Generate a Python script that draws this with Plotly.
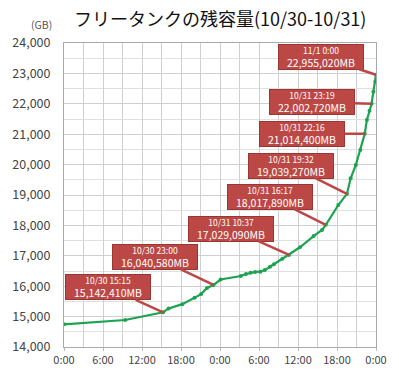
import plotly.graph_objects as go

# hours since 10/30 0:00
hours = [0, 9.4, 15.25, 16.1, 18.2, 20.1, 21.1, 22.0, 23.0, 24.1, 27.2, 28.0, 28.7, 29.4,
         30.2, 30.9, 31.7, 32.3, 33.6, 34.62, 36.3, 38.4, 39.7, 40.28, 42.2, 43.53,
         44.1, 44.9, 45.6, 46.27, 46.6, 47.0, 47.32, 47.6, 47.9, 48.0]
# remaining capacity (GB)
values = [14747, 14888, 15142.41, 15270, 15410, 15620, 15740, 15940, 16040.58, 16220, 16335,
          16400, 16444, 16467, 16477, 16530, 16640, 16720, 16905, 17029.09, 17280, 17650,
          17850, 18017.89, 18670, 19039.27, 19550, 19990, 20480, 21014.4, 21470, 21775,
          22002.72, 22400, 22730, 22955.02]

tick_hours = [0, 6, 12, 18, 24, 30, 36, 42, 48]
tick_labels = ["0:00", "6:00", "12:00", "18:00", "0:00", "6:00", "12:00", "18:00", "0:00"]

callout_hours = [15.25, 23.0, 34.62, 40.28, 43.53, 46.27, 47.32, 48.0]
callout_values = [15142.41, 16040.58, 17029.09, 18017.89, 19039.27, 21014.4, 22002.72, 22955.02]
callout_times = ["10/30 15:15", "10/30 23:00", "10/31 10:37", "10/31 16:17",
                 "10/31 19:32", "10/31 22:16", "10/31 23:19", "11/1 0:00"]
callout_mb = ["15,142,410MB", "16,040,580MB", "17,029,090MB", "18,017,890MB",
              "19,039,270MB", "21,014,400MB", "22,002,720MB", "22,955,020MB"]

# layout offsets for the callout boxes (pixels)
offsets = [(-55, -25), (-59, -28), (-58, -26), (-56, -28), (-56, -28), (-63, 0), (-60, -2), (-55, -18)]

FONT = "Noto Sans CJK JP"
RED = "#BC4846"
GREEN = "#1DA34F"

fig = go.Figure()
fig.add_trace(go.Scatter(
    x=hours, y=values, mode="lines+markers",
    line=dict(color=GREEN, width=2.2),
    marker=dict(color=GREEN, size=4),
    showlegend=False, hoverinfo="skip"))

annotations = []
for h, v, t, mb, (ax, ay) in zip(callout_hours, callout_values, callout_times, callout_mb, offsets):
    annotations.append(dict(
        x=h, y=v, xref="x", yref="y", ax=ax, ay=ay,
        text=f"<span style='font-size:8.5px'>{t}</span><br>{mb}",
        font=dict(family=FONT, size=10.5, color="white"),
        showarrow=True, arrowhead=0, arrowwidth=2.5, arrowcolor=RED,
        bgcolor=RED, bordercolor="#9A3533", borderwidth=1, borderpad=0,
        width=84, height=24, align="center"))

annotations.append(dict(
    x=-0.072, y=1.062, xref="paper", yref="paper", text="(GB)", showarrow=False,
    font=dict(family=FONT, size=10.5, color="#555555"), xanchor="center", yanchor="middle"))
annotations.append(dict(
    x=0.50, y=1.083, xref="paper", yref="paper", text="フリータンクの残容量(10/30-10/31)",
    showarrow=False, font=dict(family=FONT, size=18, color="#111111"),
    xanchor="center", yanchor="middle"))

fig.update_layout(
    width=399, height=380,
    margin=dict(l=58, r=20, t=43, b=33),
    paper_bgcolor="white", plot_bgcolor="white",
    font=dict(family=FONT, size=11, color="#444444"),
    annotations=annotations,
    xaxis=dict(range=[0, 48], tickvals=tick_hours, ticktext=tick_labels,
               showgrid=True, gridcolor="#CFCFCF", gridwidth=1,
               minor=dict(dtick=3, tick0=0, showgrid=True, gridcolor="#CFCFCF"),
               ticks="outside", ticklen=3, tickcolor="#BBBBBB",
               showline=True, linecolor="#AAAAAA", mirror=True,
               zeroline=False, tickfont=dict(size=11, color="#444444")),
    yaxis=dict(range=[14000, 24000], dtick=1000, tickformat=",",
               showgrid=True, gridcolor="#CFCFCF", gridwidth=1,
               minor=dict(dtick=500, showgrid=True, gridcolor="#E0E0E0"),
               ticks="outside", ticklen=10, tickcolor="rgba(0,0,0,0)",
               showline=True, linecolor="#AAAAAA", mirror=True,
               zeroline=False, tickfont=dict(size=12.5, color="#444444")),
)

fig.write_html("out.html", config={"displayModeBar": False},
               post_script="document.body.style.margin='0';")
